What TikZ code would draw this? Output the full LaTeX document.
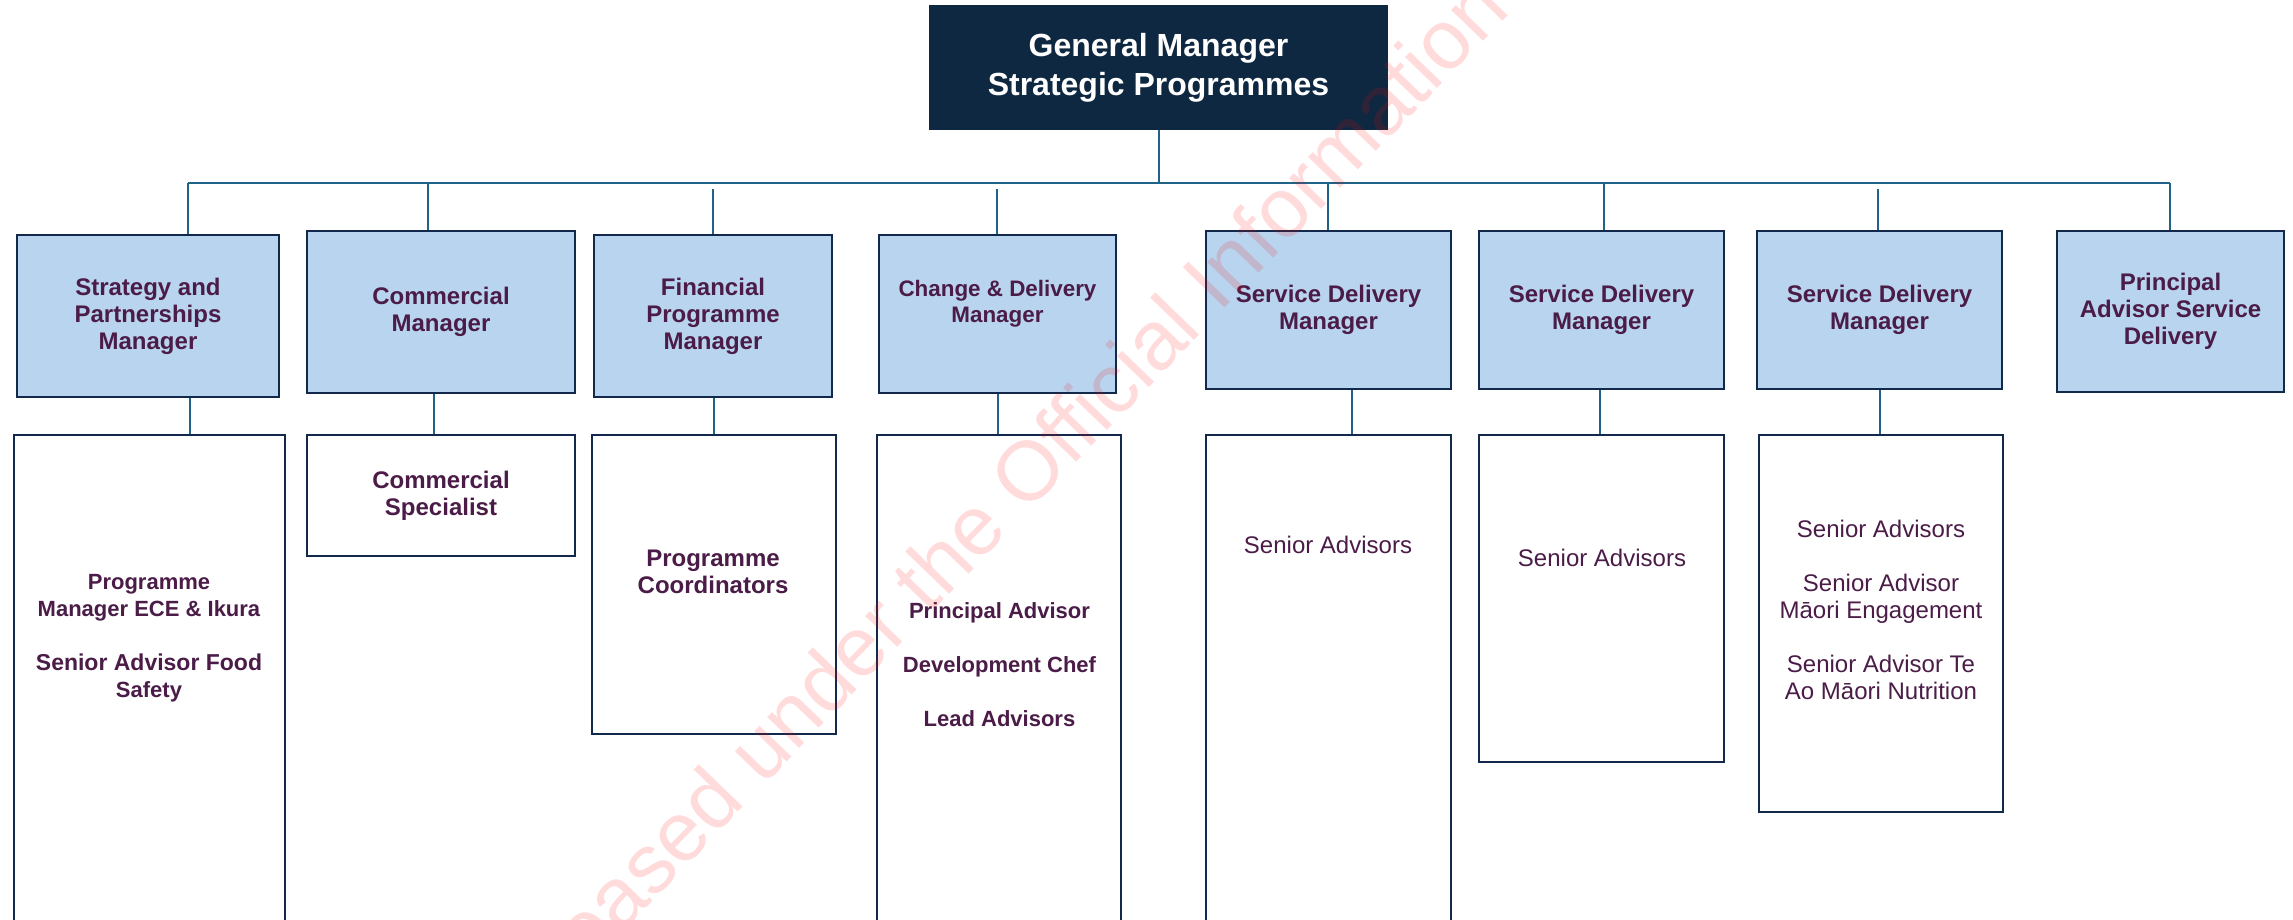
\documentclass[tikz,border=0pt]{standalone}
\usepackage{fontspec}
\setmainfont{Liberation Sans}
\usetikzlibrary{positioning}
\definecolor{navy}{HTML}{0F2841}
\definecolor{boxline}{HTML}{13294B}
\definecolor{paleblue}{HTML}{B9D4EE}
\definecolor{plum}{HTML}{4A1C47}
\definecolor{linkblue}{HTML}{1F6388}
\begin{document}
\begin{tikzpicture}[x=0.5pt,y=-0.5pt,
    head/.style={draw=navy,fill=navy,line width=1pt,inner sep=0pt,text=white,align=center,
        font=\bfseries\fontsize{16}{19.5}\selectfont},
    manager/.style={draw=boxline,fill=paleblue,line width=1.4pt,inner sep=0pt,text=plum,align=center,
        font=\bfseries\fontsize{12}{13.5}\selectfont},
    team/.style={draw=boxline,fill=white,line width=1.3pt,inner sep=0pt,text=plum,align=center,
        font=\bfseries\fontsize{12}{13.5}\selectfont},
    role/.style={inner sep=0pt,text=plum,align=center,font=\bfseries\fontsize{11}{13.5}\selectfont},
    plainrole/.style={inner sep=0pt,text=plum,align=center,font=\fontsize{12}{13.5}\selectfont},
    link/.style={draw=linkblue,line width=1pt}]
    \useasboundingbox (0,0) rectangle (2293,920);

    %NODE
    \node[head,minimum width=228.5pt,minimum height=61.5pt] (gm) at (1158.5,67.5) {General Manager\\Strategic Programmes};

    \node[manager,minimum width=131pt,minimum height=81pt] (u1) at (148,316) {Strategy and\\Partnerships\\Manager};
    \node[manager,minimum width=134pt,minimum height=81pt] (u2) at (441,312) {Commercial\\Manager};
    \node[manager,minimum width=119pt,minimum height=81pt] (u3) at (713,316) {Financial\\Programme\\Manager};
    \node[manager,minimum width=118.5pt,minimum height=79pt,font=\bfseries\fontsize{11.2}{13}\selectfont] (u4) at (997.5,314) {Change \& Delivery\\Manager\\\mbox{}};
    \node[manager,minimum width=122.5pt,minimum height=79pt] (u5) at (1328.5,310) {Service Delivery\\Manager};
    \node[manager,minimum width=122.5pt,minimum height=79pt] (u6) at (1601.5,310) {Service Delivery\\Manager};
    \node[manager,minimum width=122.5pt,minimum height=79pt] (u7) at (1879.5,310) {Service Delivery\\Manager};
    \node[manager,minimum width=113.5pt,minimum height=80.5pt] (u8) at (2170.5,311.5) {Principal\\Advisor Service\\Delivery};

    \node[team,minimum width=135.5pt,minimum height=252.5pt] (l1) at (149.5,687.5) {};
    \node[team,minimum width=134pt,minimum height=60.5pt] (l2) at (441,495.5) {Commercial\\Specialist};
    \node[team,minimum width=122pt,minimum height=149.5pt] (l3) at (714,584.5) {};
    \node[team,minimum width=122pt,minimum height=252.5pt] (l4) at (999,687.5) {};
    \node[team,minimum width=122.5pt,minimum height=252.5pt] (l5) at (1328.5,687.5) {};
    \node[team,minimum width=122.5pt,minimum height=163.5pt] (l6) at (1601.5,598.5) {};
    \node[team,minimum width=122pt,minimum height=188.5pt] (l7) at (1881,623.5) {};

    \node[role] (t1) at (149,638) {Programme\\Manager ECE \& Ikura\\[13.5pt]\fontsize{11.5}{13.5}\selectfont Senior Advisor Food\\Safety};
    \node[role,font=\bfseries\fontsize{12}{13.5}\selectfont] (t3) at (713,571.5) {Programme\\Coordinators};
    \node[role] (t4) at (999.5,664.5) {Principal Advisor\\[13.5pt]Development Chef\\[13.5pt]Lead Advisors};
    \node[plainrole] (t5) at (1328,545) {Senior Advisors};
    \node[plainrole] (t6) at (1602,558) {Senior Advisors};
    \node[plainrole] (t7) at (1881,610) {Senior Advisors\\[13.5pt]Senior Advisor\\Māori Engagement\\[13.5pt]Senior Advisor Te\\Ao Māori Nutrition};

    \coordinate (busL) at (187.5,183);
    \coordinate (busR) at (2170,183);

    %EDGE
    \draw[link] (gm.south) -- (gm.south |- busL);
    \draw[link] (busL) -- (busR);
    \foreach \b/\x in {u1/187.5,u2/428,u5/1327.5,u6/1604,u8/2170}
        \draw[link] (\x,0 |- busL) -- (\x,0 |- \b.north);
    \foreach \b/\x in {u3/712.5,u4/997,u7/1878}
        \draw[link,shorten <=3pt] (\x,0 |- busL) -- (\x,0 |- \b.north);
    \foreach \u/\l/\x in {u1/l1/190,u2/l2/434,u3/l3/714,u4/l4/998,u5/l5/1352,u6/l6/1600,u7/l7/1880}
        \draw[link] (\x,0 |- \u.south) -- (\x,0 |- \l.north);

    \node[rotate=46,text=red,text opacity=0.14,inner sep=0pt,font=\fontsize{42}{50}\selectfont] (stamp) at (1035,462) {Released under the Official Information Act};
\end{tikzpicture}
\end{document}
